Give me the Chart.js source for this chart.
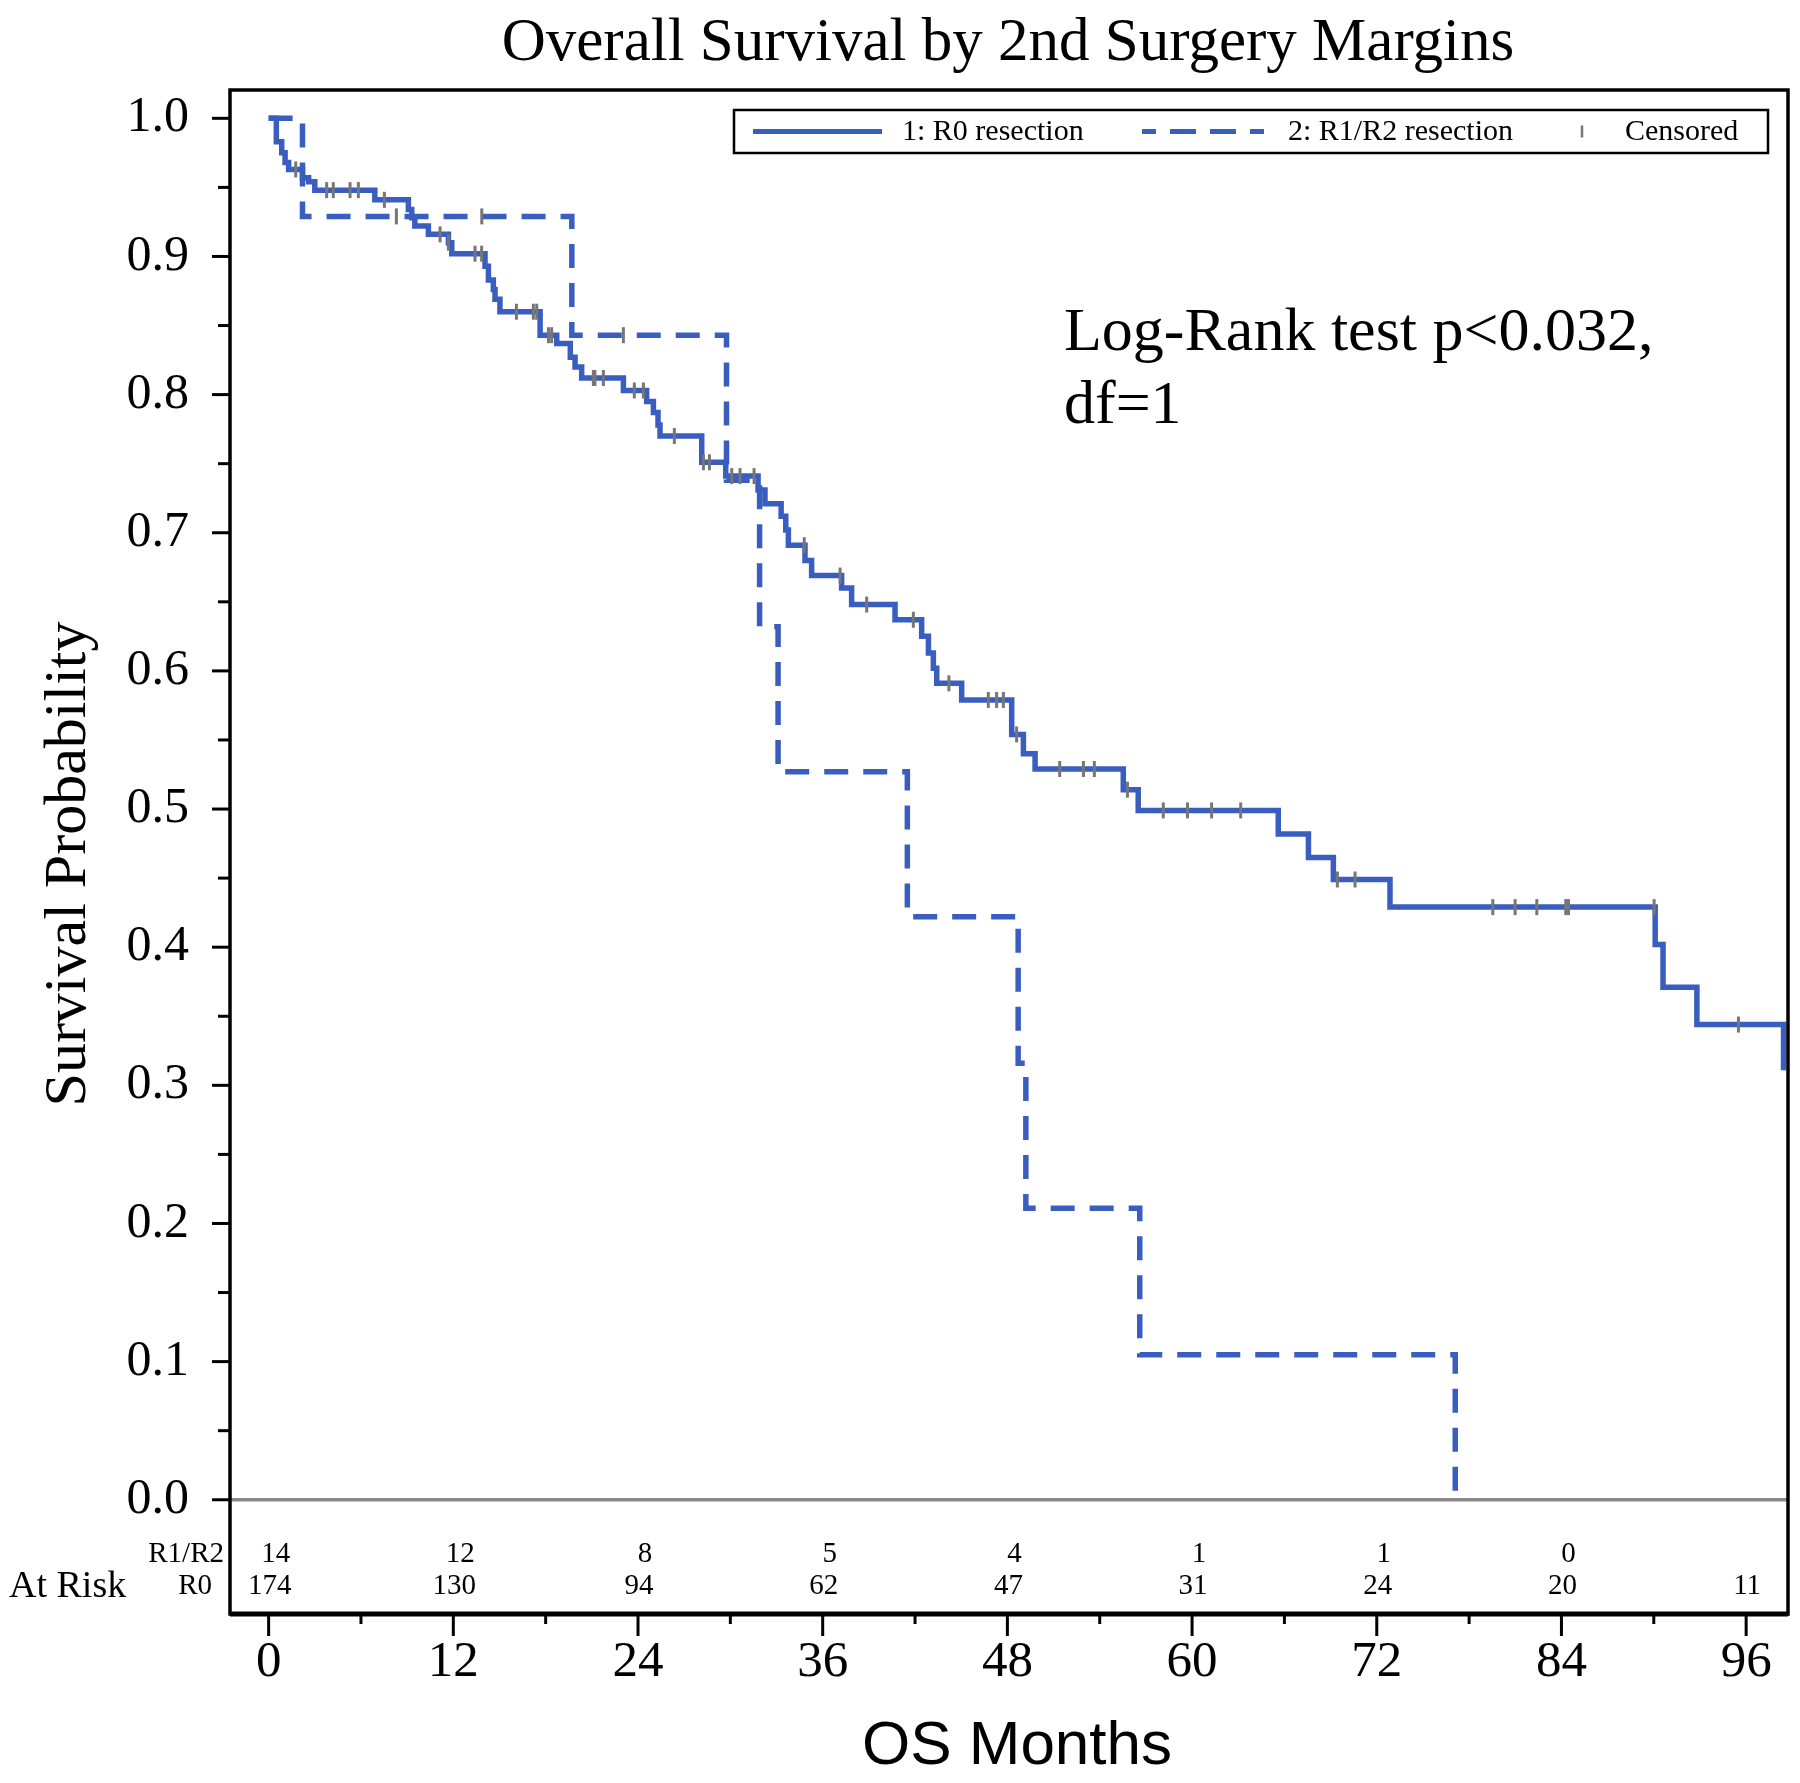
<!DOCTYPE html>
<html><head><meta charset="utf-8">
<script src="https://cdn.jsdelivr.net/npm/chart.js@4.4.1/dist/chart.umd.min.js"></script>
<style>html,body{margin:0;padding:0;background:#fff;}canvas{display:block;}</style>
</head><body>
<canvas id="c" width="1800" height="1783"></canvas>
<script>
// ---- Data ----
const r0Months = [0, 0.5, 0.85, 1.07, 1.3, 2.2, 2.6, 3.0, 6.9, 9.08, 9.3, 9.5, 10.38, 11.68, 11.9, 14.06, 14.28, 14.6, 14.71, 15.03, 17.64, 18.72, 19.6, 19.91, 20.34, 23.05, 24.56, 25.0, 25.3, 25.43, 28.14, 29.7, 31.8, 32.25, 33.3, 33.6, 33.77, 34.85, 35.28, 37.23, 37.88, 40.7, 42.43, 42.87, 43.19, 43.41, 45.03, 48.28, 49.04, 49.8, 55.53, 56.5, 65.6, 67.56, 69.18, 72.86, 90.09, 90.6, 92.8, 98.43];
const r0Survival = [1.0, 0.983, 0.975, 0.968, 0.963, 0.957, 0.954, 0.948, 0.941, 0.934, 0.928, 0.922, 0.916, 0.910, 0.902, 0.893, 0.883, 0.876, 0.869, 0.860, 0.843, 0.837, 0.827, 0.820, 0.812, 0.803, 0.795, 0.787, 0.778, 0.770, 0.751, 0.741, 0.731, 0.721, 0.712, 0.702, 0.691, 0.680, 0.669, 0.660, 0.648, 0.637, 0.625, 0.613, 0.602, 0.591, 0.579, 0.554, 0.540, 0.529, 0.514, 0.499, 0.482, 0.465, 0.449, 0.429, 0.402, 0.371, 0.344, 0.311];
const r0CensorMonths = [1.76, 3.77, 4.2, 5.29, 5.83, 7.52, 11.14, 11.68, 13.41, 13.84, 16.1, 17.2, 17.42, 18.18, 18.39, 21.1, 21.2, 21.75, 23.76, 24.35, 26.36, 28.25, 28.64, 30.09, 30.63, 31.54, 34.8, 37.13, 38.86, 41.89, 44.2, 46.76, 47.3, 47.74, 48.6, 51.4, 52.94, 53.65, 55.8, 58.13, 59.7, 61.27, 63.16, 69.44, 70.59, 79.54, 80.99, 82.4, 84.28, 84.46, 90.02, 95.5];
const r12Months = [0, 2.2, 19.7, 29.75, 31.9, 33.1, 41.5, 48.7, 49.2, 56.6, 77.1];
const r12Survival = [1.0, 0.929, 0.843, 0.738, 0.632, 0.527, 0.422, 0.316, 0.211, 0.105, 0.0];
const r12CensorMonths = [8.3, 13.85, 23.05];

const xTickValues = [0, 12, 24, 36, 48, 60, 72, 84, 96];
const xTickLabels = ['0', '12', '24', '36', '48', '60', '72', '84', '96'];
const yTickValues = [0, 0.1, 0.2, 0.3, 0.4, 0.5, 0.6, 0.7, 0.8, 0.9, 1.0];
const yTickLabels = ['0.0', '0.1', '0.2', '0.3', '0.4', '0.5', '0.6', '0.7', '0.8', '0.9', '1.0'];

const atRiskMonths = [0, 12, 24, 36, 48, 60, 72, 84, 96];
const atRiskR12 = [14, 12, 8, 5, 4, 1, 1, 0, null];
const atRiskR0 = [174, 130, 94, 62, 47, 31, 24, 20, 11];

const seriesNames = ['1: R0 resection', '2: R1/R2 resection', 'Censored'];
const titleText = 'Overall Survival by 2nd Surgery Margins';
const statLines = ['Log-Rank test p<0.032,', 'df=1'];

// ---- styling ----
const BLUE = '#3a5ebf';
const GREY = '#767676';
const SERIF = '"Liberation Serif", "Times New Roman", serif';
const SANS = '"Liberation Sans", Arial, sans-serif';

function survAt(months, surv, t) {
  let v = surv[0];
  for (let i = 0; i < months.length; i++) { if (months[i] <= t) v = surv[i]; }
  return v;
}
const toPts = (ms, ss) => ms.map((m, i) => ({x: m, y: ss[i]}));

const kmPlugin = {
  id: 'km',
  beforeDraw(chart) {
    const c = chart.ctx;
    c.save(); c.fillStyle = '#fff'; c.fillRect(0, 0, chart.width, chart.height); c.restore();
  },
  beforeDatasetsDraw(chart) {
    const {ctx, chartArea: a, scales: {x, y}} = chart;
    ctx.save();
    ctx.strokeStyle = '#8a8a8a'; ctx.lineWidth = 3.5;
    const y0 = y.getPixelForValue(0);
    ctx.beginPath(); ctx.moveTo(a.left, y0); ctx.lineTo(a.right, y0); ctx.stroke();
    ctx.restore();
  },
  afterDraw(chart) {
    const {ctx, chartArea: a, scales: {x, y}} = chart;
    ctx.save();
    // frame
    ctx.strokeStyle = '#000'; ctx.lineWidth = 3.5;
    ctx.strokeRect(a.left, a.top, a.right - a.left, a.bottom - a.top);
    ctx.lineWidth = 5;
    ctx.beginPath(); ctx.moveTo(a.left, a.bottom); ctx.lineTo(a.right, a.bottom); ctx.stroke();
    // x ticks (major + minor)
    ctx.lineWidth = 3;
    xTickValues.forEach((v, i) => {
      const px = x.getPixelForValue(v);
      ctx.beginPath(); ctx.moveTo(px, a.bottom); ctx.lineTo(px, a.bottom + 22); ctx.stroke();
      if (i < xTickValues.length - 1) {
        const pm = x.getPixelForValue((v + xTickValues[i + 1]) / 2);
        ctx.beginPath(); ctx.moveTo(pm, a.bottom); ctx.lineTo(pm, a.bottom + 10); ctx.stroke();
      }
    });
    // y ticks
    yTickValues.forEach((v, i) => {
      const py = y.getPixelForValue(v);
      ctx.beginPath(); ctx.moveTo(a.left, py); ctx.lineTo(a.left - 18, py); ctx.stroke();
      if (i < yTickValues.length - 1) {
        const pm = y.getPixelForValue((v + yTickValues[i + 1]) / 2);
        ctx.beginPath(); ctx.moveTo(a.left, pm); ctx.lineTo(a.left - 12, pm); ctx.stroke();
      }
    });
    // title
    ctx.fillStyle = '#000';
    ctx.textAlign = 'center'; ctx.textBaseline = 'alphabetic';
    ctx.font = '61px ' + SERIF;
    ctx.fillText(titleText, 1008, 60);
    // x-axis title
    ctx.font = '62px ' + SANS;
    ctx.fillText('OS Months', 1017, 1764);
    // y-axis title
    ctx.save();
    ctx.translate(85, 864); ctx.rotate(-Math.PI / 2);
    ctx.font = '60px ' + SERIF;
    ctx.fillText('Survival Probability', 0, 0);
    ctx.restore();
    // stat text
    ctx.textAlign = 'left';
    ctx.font = '62px ' + SERIF;
    ctx.fillText(statLines[0], 1064, 350);
    ctx.fillText(statLines[1], 1064, 423);
    // legend
    ctx.lineWidth = 2.5; ctx.strokeStyle = '#000';
    ctx.strokeRect(734, 110, 1034, 43);
    const ly = 131.5;
    ctx.strokeStyle = BLUE; ctx.lineWidth = 5;
    ctx.beginPath(); ctx.moveTo(753, ly); ctx.lineTo(882, ly); ctx.stroke();
    ctx.setLineDash([26, 14]); ctx.lineDashOffset = 12;
    ctx.beginPath(); ctx.moveTo(1142, ly); ctx.lineTo(1264, ly); ctx.stroke();
    ctx.setLineDash([]); ctx.lineDashOffset = 0;
    ctx.strokeStyle = GREY; ctx.lineWidth = 2.5;
    ctx.beginPath(); ctx.moveTo(1582, ly - 6); ctx.lineTo(1582, ly + 6); ctx.stroke();
    ctx.font = '30px ' + SERIF; ctx.fillStyle = '#000'; ctx.textBaseline = 'middle';
    ctx.fillText(seriesNames[0], 902, ly + 1);
    ctx.fillText(seriesNames[1], 1288, ly + 1);
    ctx.fillText(seriesNames[2], 1625, ly + 1);
    // at-risk table
    const y0 = y.getPixelForValue(0);
    const rowA = y0 + 55, rowB = y0 + 87;
    ctx.font = '29px ' + SERIF; ctx.textAlign = 'right';
    ctx.fillText('R1/R2', 224, rowA);
    ctx.fillText('R0', 212, rowB);
    ctx.textAlign = 'center';
    atRiskMonths.forEach((m, i) => {
      const px = x.getPixelForValue(m);
      if (atRiskR12[i] !== null) ctx.fillText(String(atRiskR12[i]), px + 7, rowA);
      ctx.fillText(String(atRiskR0[i]), px + 1, rowB);
    });
    ctx.textAlign = 'left'; ctx.font = '38px ' + SERIF;
    ctx.fillText('At Risk', 9, rowB);
    ctx.restore();
  }
};

new Chart(document.getElementById('c'), {
  type: 'line',
  data: {
    datasets: [
      { label: 'R0 censored', type: 'scatter', order: 0,
        data: r0CensorMonths.map(t => ({x: t, y: survAt(r0Months, r0Survival, t)})),
        pointStyle: 'line', rotation: 90, pointRadius: 8, borderColor: GREY, backgroundColor: GREY, borderWidth: 3, showLine: false },
      { label: 'R1/R2 censored', type: 'scatter', order: 0,
        data: r12CensorMonths.map(t => ({x: t, y: survAt(r12Months, r12Survival, t)})),
        pointStyle: 'line', rotation: 90, pointRadius: 8, borderColor: GREY, backgroundColor: GREY, borderWidth: 3, showLine: false },
      { label: seriesNames[0], order: 1, data: toPts(r0Months, r0Survival), stepped: 'before',
        borderColor: BLUE, borderWidth: 5.5, pointRadius: 0, fill: false, borderCapStyle: 'butt', borderJoinStyle: 'miter' },
      { label: seriesNames[1], order: 2, data: toPts(r12Months, r12Survival), stepped: 'before',
        borderColor: BLUE, borderWidth: 5.5, borderDash: [24, 15], pointRadius: 0, fill: false, borderCapStyle: 'butt', borderJoinStyle: 'miter' }
    ]
  },
  options: {
    responsive: false, animation: false, devicePixelRatio: 1,
    layout: { padding: { left: 0, top: 90, right: 12, bottom: 0 } },
    plugins: { legend: { display: false }, tooltip: { enabled: false }, title: { display: false } },
    scales: {
      x: {
        type: 'linear', min: -2.51, max: 98.72,
        grid: { display: false, drawTicks: false }, border: { display: false },
        afterBuildTicks: s => { s.ticks = xTickValues.map(v => ({value: v})); },
        afterFit: s => { s.height = 169; },
        ticks: { padding: 18, maxRotation: 0, autoSkip: false, color: '#000',
          font: { family: SERIF, size: 51 },
          callback: (v) => { const i = xTickValues.indexOf(v); return i >= 0 ? xTickLabels[i] : ''; } }
      },
      y: {
        type: 'linear', min: -0.0827, max: 1.0205,
        grid: { display: false, drawTicks: false }, border: { display: false },
        afterBuildTicks: s => { s.ticks = yTickValues.map(v => ({value: v})); },
        afterFit: s => { s.width = 230; },
        ticks: { padding: 41, autoSkip: false, color: '#000',
          font: { family: SERIF, size: 50 },
          callback: (v) => { const i = yTickValues.findIndex(t => Math.abs(t - v) < 1e-9); return i >= 0 ? yTickLabels[i] : ''; } }
      }
    }
  },
  plugins: [kmPlugin]
});
</script>
</body></html>
